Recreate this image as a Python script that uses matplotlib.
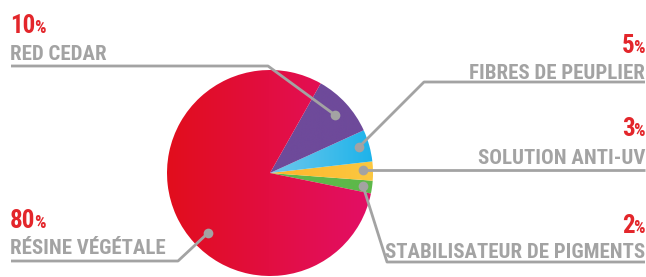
import numpy as np
import matplotlib.pyplot as plt
from matplotlib.colors import LinearSegmentedColormap

# data
labels = ["STABILISATEUR DE PIGMENTS", "SOLUTION ANTI-UV", "FIBRES DE PEUPLIER",
          "RED CEDAR", "RÉSINE VÉGÉTALE"]
values = [2, 3, 5, 10, 80]
grad_colors = [("#5DB84A", "#5DB84A"), ("#FDB52A", "#FBC841"), ("#6FC8EC", "#1DB3EA"),
               ("#6E4A9A", "#6E4A9A"), ("#E10D1C", "#E30F66")]

W, H = 646, 277
fig = plt.figure(figsize=(W / 100, H / 100), dpi=100)
ax = fig.add_axes([0, 0, 1, 1])

cx, cy, r = 270, H - 173, 103
wedges, _ = ax.pie(values, startangle=-11.5, counterclock=True, center=(cx, cy),
                   radius=r, frame=True)
ax.set_xlim(0, W)
ax.set_ylim(0, H)
ax.set_aspect("equal")
ax.axis("off")

# left-to-right gradient fill in each wedge
grad = np.linspace(0, 1, 256).reshape(1, -1)
for w, (c1, c2) in zip(wedges, grad_colors):
    w.set_facecolor("none")
    w.set_edgecolor("none")
    bb = w.get_path().get_extents()
    cmap = LinearSegmentedColormap.from_list("g", [c1, c2])
    im = ax.imshow(grad, cmap=cmap, extent=[bb.x0, bb.x1, bb.y0, bb.y1],
                   aspect="auto", zorder=1)
    im.set_clip_path(w)

grey = "#A3A3A3"
red = "#E3262B"
font = ["Roboto Condensed", "Roboto", "DejaVu Sans"]

# leader lines (pixel coords, y from top), same order as labels
leaders = [
    [(363, 186), (387, 262), (645, 262)],
    [(363, 170), (645, 170)],
    [(359, 147), (424, 82), (645, 82)],
    [(335, 115), (268, 66), (11, 66)],
    [(208, 233), (178, 261), (11, 261)],
]
# text anchors: (x, baseline of pct, baseline of name, ha)
anchors = [
    (645, 233, 258, "right"),
    (645, 136, 164, "right"),
    (645, 53, 79, "right"),
    (10, 33, 60, "left"),
    (10, 228, 254, "left"),
]

renderer = fig.canvas.get_renderer()
inv = ax.transData.inverted()

for pts, (x, yp, yn, ha), name, v in zip(leaders, anchors, labels, values):
    xs = [p[0] for p in pts]
    ys = [H - p[1] for p in pts]
    ax.plot(xs, ys, color=grey, lw=2, solid_capstyle="butt", zorder=3)
    ax.plot(xs[0], ys[0], "o", color=grey, ms=7, mec="none", zorder=4)
    if ha == "left":
        t = ax.text(x, H - yp, str(v), color=red, fontsize=18, fontweight="bold",
                    family=font, ha="left", va="baseline")
        x1 = inv.transform(t.get_window_extent(renderer).get_points())[1, 0]
        ax.text(x1 - 1, H - yp, "%", color=red, fontsize=13, fontweight="bold",
                family=font, ha="left", va="baseline")
    else:
        t = ax.text(x, H - yp, "%", color=red, fontsize=13, fontweight="bold",
                    family=font, ha="right", va="baseline")
        x0 = inv.transform(t.get_window_extent(renderer).get_points())[0, 0]
        ax.text(x0 + 1, H - yp, str(v), color=red, fontsize=18, fontweight="bold",
                family=font, ha="right", va="baseline")
    ax.text(x, H - yn, name, color=grey, fontsize=15, fontweight="bold",
            family=font, ha=ha, va="baseline")

fig.savefig("out.png", dpi=100)
